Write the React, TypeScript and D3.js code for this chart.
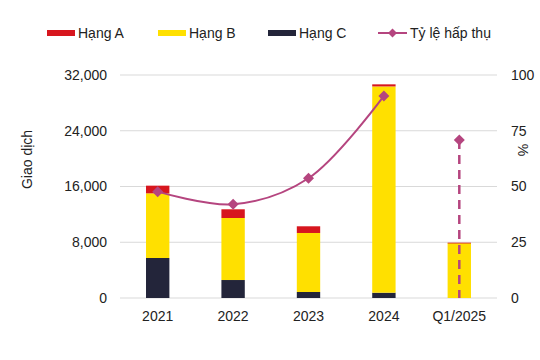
import React from "react";
import * as d3 from "d3";

const categories = ["2021", "2022", "2023", "2024", "Q1/2025"];
const hangA = [1100, 1250, 960, 300, 60];
const hangB = [9280, 8900, 8470, 29600, 7880];
const hangC = [5740, 2580, 860, 760, 0];
const tyLe = [47.7, 42, 53.7, 90.6, 70.9];
const leftTicks = [0, 8000, 16000, 24000, 32000];
const rightTicks = [0, 25, 50, 75, 100];

const W = 540, H = 360;
const M = { left: 120, right: 497, top: 75, bottom: 298 };
const colors = { A: "#D7161E", B: "#FFE000", C: "#23253A", line: "#B5457F", grid: "#D9D9D9" };
const font = "'Liberation Sans', Arial, sans-serif";
const FS = 14;

export default function App() {
  const x = d3.scaleBand<string>().domain(categories).range([M.left, M.right]).paddingInner(0.69).paddingOuter(0.345);
  const y = d3.scaleLinear().domain([0, 32000]).range([M.bottom, M.top]);
  const y2 = d3.scaleLinear().domain([0, 100]).range([M.bottom, M.top]);
  const fmt = d3.format(",");
  const cx = (c: string) => (x(c) as number) + x.bandwidth() / 2;

  const series = [
    { key: "C", vals: hangC, color: colors.C },
    { key: "B", vals: hangB, color: colors.B },
    { key: "A", vals: hangA, color: colors.A },
  ];

  const solidPts = categories.slice(0, 4).map((c, i) => [cx(c), y2(tyLe[i])] as [number, number]);
  const line = d3.line().curve(d3.curveCatmullRom.alpha(0.5));
  const lastC = categories[4];

  const diamond = (px: number, py: number, s = 5.5) =>
    `M${px},${py - s}L${px + s},${py}L${px},${py + s}L${px - s},${py}Z`;

  const legendItems = [
    { label: "Hạng A", color: colors.A, x: 47 },
    { label: "Hạng B", color: colors.B, x: 158 },
    { label: "Hạng C", color: colors.C, x: 268 },
  ];

  return (
    <svg width={W} height={H} style={{ position: "absolute", left: 0, top: 0, background: "#fff" }} fontFamily={font}>
      {leftTicks.map((t) => (
        <line key={t} x1={M.left} x2={M.right} y1={y(t)} y2={y(t)} stroke={colors.grid} strokeWidth={1} />
      ))}
      {categories.map((c, i) => {
        let acc = 0;
        return (
          <g key={c}>
            {series.map((s) => {
              const v = s.vals[i];
              const y0 = y(acc);
              acc += v;
              const y1 = y(acc);
              if (v <= 0) return null;
              return (
                <rect key={s.key} x={x(c)} y={y1} width={x.bandwidth()} height={Math.max(0.8, y0 - y1)} fill={s.color} />
              );
            })}
          </g>
        );
      })}
      <path d={line(solidPts) || ""} fill="none" stroke={colors.line} strokeWidth={2} />
      <line x1={cx(lastC)} x2={cx(lastC)} y1={y2(tyLe[4])} y2={y2(0)} stroke={colors.line} strokeWidth={2.5} strokeDasharray="9,6" />
      {categories.map((c, i) => (
        <path key={c} d={diamond(cx(c), y2(tyLe[i]))} fill={colors.line} />
      ))}
      {leftTicks.map((t) => (
        <text key={t} x={107} y={y(t)} dy="0.35em" textAnchor="end" fontSize={FS} fill="#222">{fmt(t)}</text>
      ))}
      {rightTicks.map((t) => (
        <text key={t} x={511} y={y2(t)} dy="0.35em" textAnchor="start" fontSize={FS} fill="#222">{t}</text>
      ))}
      {categories.map((c) => (
        <text key={c} x={cx(c)} y={316} dy="0.35em" textAnchor="middle" fontSize={FS} fill="#222">{c}</text>
      ))}
      <text transform={`translate(27,${(M.top + M.bottom) / 2 - 27}) rotate(-90)`} textAnchor="middle" dy="0.35em" fontSize={FS} fill="#222">Giao dịch</text>
      <text transform={`translate(523,150) rotate(90)`} textAnchor="middle" dy="0.35em" fontSize={FS} fill="#222">%</text>
      {legendItems.map((l) => (
        <g key={l.label}>
          <rect x={l.x} y={30} width={28} height={6} fill={l.color} />
          <text x={l.x + 31} y={33} dy="0.35em" fontSize={FS} fill="#222">{l.label}</text>
        </g>
      ))}
      <line x1={378} x2={407} y1={33} y2={33} stroke={colors.line} strokeWidth={2} />
      <path d={diamond(392.5, 33, 4.5)} fill={colors.line} />
      <text x={410} y={33} dy="0.35em" fontSize={FS} fill="#222">Tỷ lệ hấp thụ</text>
    </svg>
  );
}
